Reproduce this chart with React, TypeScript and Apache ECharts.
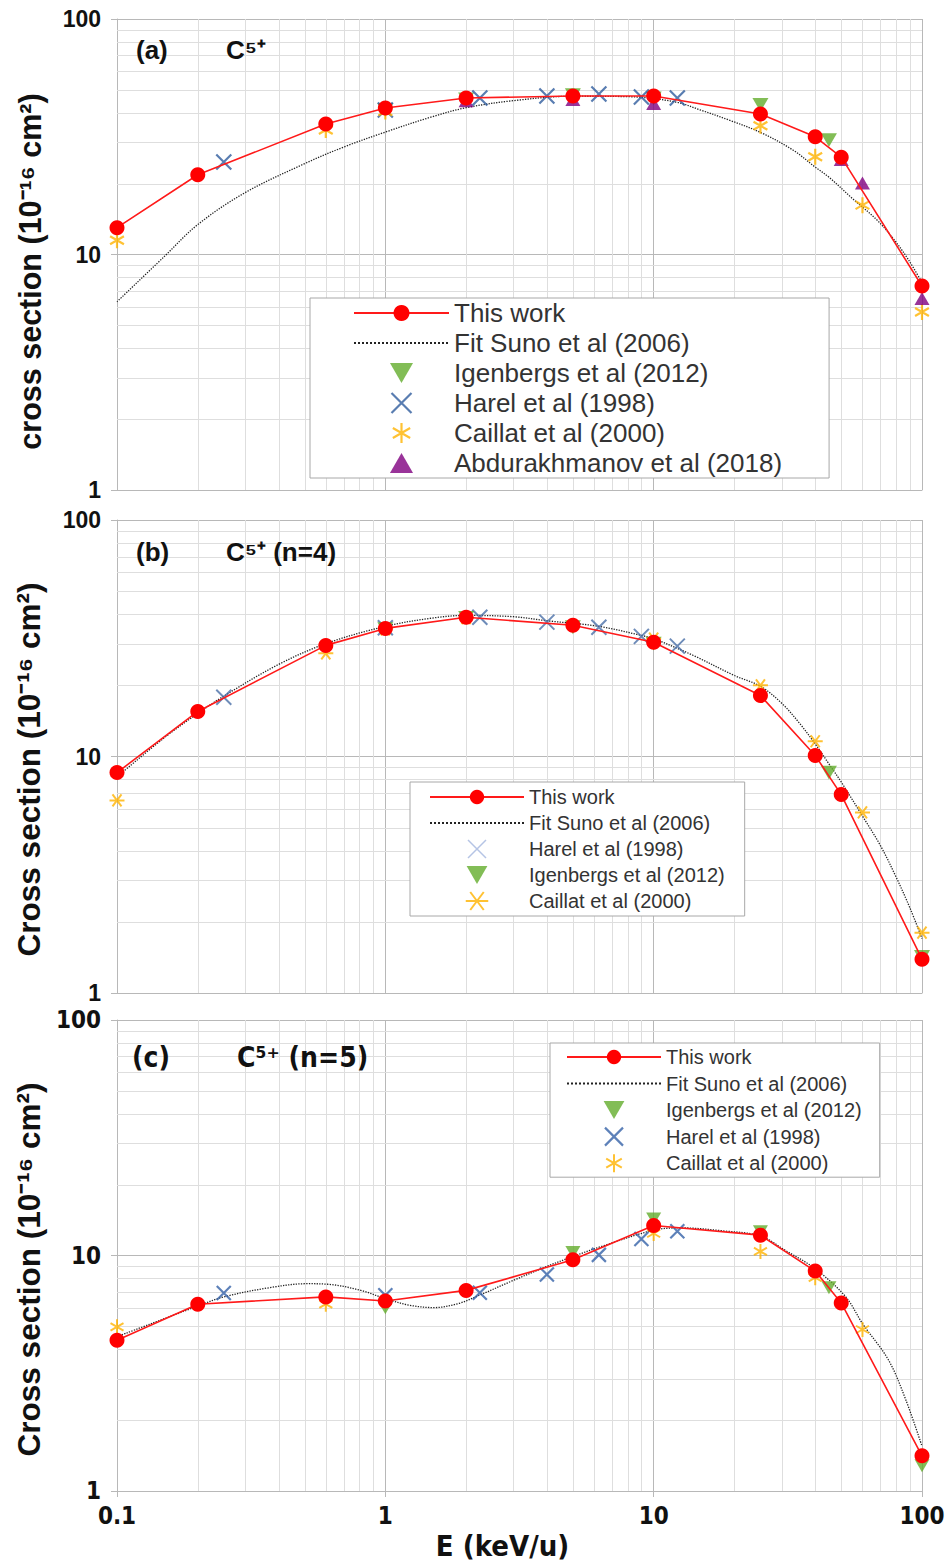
import React, { useEffect, useRef } from 'react';
import * as echarts from 'echarts';

// ---------- shared axis values ----------
const xTicks = [0.1, 1, 10, 100];
const yTicks = [1, 10, 100];
const minorX = [0.2, 0.3, 0.4, 0.5, 0.6, 0.7, 0.8, 0.9, 2, 3, 4, 5, 6, 7, 8, 9, 20, 30, 40, 50, 60, 70, 80, 90];
const minorY = [2, 3, 4, 5, 6, 7, 8, 9, 20, 30, 40, 50, 60, 70, 80, 90];

// ---------- energies (keV/u) ----------
const energyThisWork = [0.1, 0.2, 0.6, 1, 2, 5, 10, 25, 40, 50, 100];
const energyHarel = [0.25, 1, 2.25, 4, 6.25, 9, 12.25];

// ---------- panel (a) : C5+ total ----------
const thisWorkA = [13.0, 21.8, 35.8, 41.9, 46.2, 47.1, 47.1, 39.5, 31.6, 25.9, 7.35];
const harelA = [24.7, 41.1, 46.2, 47.1, 48.0, 46.6, 46.2];
const igenEnergyA = [1, 2, 5, 10, 25, 45];
const igenA = [41.0, 45.5, 47.5, 46.0, 43.2, 30.6];
const caillatEnergyA = [0.1, 0.6, 1, 25, 40, 60, 100];
const caillatA = [11.5, 33.8, 40.5, 35.2, 26.0, 16.2, 5.7];
const abduEnergyA = [2, 5, 10, 50, 60, 100];
const abduA = [45.0, 45.5, 43.8, 25.3, 20.1, 6.5];
const fitEnergyA = [0.1, 0.15, 0.2, 0.3, 0.5, 0.7, 1, 1.5, 2, 3, 5, 8, 12, 15, 19, 25, 33, 40, 45, 55, 68, 79, 89, 100];
const fitA = [6.3, 9.8, 13.4, 18.3, 24.3, 28.6, 33.1, 38.5, 42.0, 45.0, 47.0, 46.8, 44.5, 41.0, 37.3, 33.0, 27.8, 23.5, 21.3, 17.3, 14.0, 11.5, 9.5, 7.6];

// ---------- panel (b) : n=4 ----------
const thisWorkB = [8.55, 15.5, 29.5, 34.8, 38.8, 35.9, 30.4, 18.1, 10.1, 6.9, 1.39];
const harelB = [17.8, 35.0, 38.8, 37.0, 35.2, 32.2, 29.3];
const igenEnergyB = [1, 2, 5, 10, 45, 100];
const igenB = [34.5, 38.5, 35.2, 30.0, 8.55, 1.42];
const caillatEnergyB = [0.1, 0.6, 1, 2, 10, 25, 40, 60, 100];
const caillatB = [6.52, 27.3, 34.5, 38.5, 31.5, 20.0, 11.6, 5.8, 1.8];
const fitEnergyB = [0.1, 0.15, 0.2, 0.25, 0.4, 0.6, 1, 1.5, 2, 3, 4, 6.25, 9, 10, 14, 20, 25, 30, 35, 40, 45, 50, 60, 70, 80, 90, 100];
const fitB = [8.2, 12.0, 15.2, 18.0, 24.5, 30.0, 35.5, 38.5, 39.5, 39.0, 37.5, 35.5, 32.5, 31.5, 26.8, 22.0, 19.8, 16.8, 13.8, 11.3, 9.3, 7.8, 5.6, 4.2, 3.1, 2.3, 1.7];

// ---------- panel (c) : n=5 ----------
const thisWorkC = [4.37, 6.21, 6.67, 6.41, 7.11, 9.59, 13.4, 12.2, 8.59, 6.29, 1.41];
const harelC = [6.93, 6.78, 6.95, 8.31, 10.06, 11.76, 12.67];
const igenEnergyC = [1, 5, 10, 25, 45, 100];
const igenC = [6.0, 10.3, 14.3, 12.6, 7.3, 1.28];
const caillatEnergyC = [0.1, 0.6, 10, 25, 40, 60];
const caillatC = [4.98, 6.21, 12.4, 10.4, 8.05, 4.85];
const fitEnergyC = [0.1, 0.2, 0.25, 0.37, 0.51, 0.61, 0.81, 1, 1.23, 1.52, 1.87, 2.24, 3, 4, 5, 6.5, 10, 12.6, 18.4, 25, 31, 40, 52, 60, 75, 87, 100];
const fitC = [4.52, 6.1, 6.67, 7.3, 7.59, 7.55, 7.11, 6.56, 6.15, 6.01, 6.25, 6.78, 7.84, 8.99, 9.9, 11.0, 12.8, 13.1, 12.7, 12.1, 10.5, 8.78, 6.67, 5.14, 3.6, 2.44, 1.55];

// ---------- names ----------
const N_THIS = 'This work';
const N_FIT = 'Fit Suno et al (2006)';
const N_IGEN = 'Igenbergs et al (2012)';
const N_HAREL = 'Harel et al (1998)';
const N_CAIL = 'Caillat et al (2000)';
const N_ABDU = 'Abdurakhmanov et al (2018)';

const SYM_DOWN = 'path://M0,0L12,0L6,10.4Z';
const SYM_UP = 'path://M6,0L12,10.4L0,10.4Z';
const SYM_X = 'path://M0,0L10,10M10,0L0,10';
const SYM_AST = 'path://M5,0L5,10M0.67,2.5L9.33,7.5M9.33,2.5L0.67,7.5';
const SYM_AST_H = 'path://M0,5L10,5M2,1L8,9M8,1L2,9';

const FONT = "'Liberation Sans', Arial, sans-serif";
const NARROW = "'Liberation Sans Narrow', 'DejaVu Sans Condensed', 'Liberation Sans', sans-serif";
const GRID_MAJOR = '#b8b8b8';
const GRID_MINOR = '#dedede';

const zip = (xs: number[], ys: number[]) => xs.map((x, i) => [x, ys[i]]);
const key = (p: string, n: string) => p + '|' + n;

function gridLines(idx: number, vals: number[], dir: 'x' | 'y') {
  return {
    type: 'custom',
    silent: true,
    z: 1,
    xAxisIndex: idx,
    yAxisIndex: idx,
    data: vals.map((v) => (dir === 'x' ? [v, 10] : [1, v])),
    renderItem: (params: any, api: any) => {
      const p = api.coord([api.value(0), api.value(1)]);
      const cs = params.coordSys;
      const shape =
        dir === 'x'
          ? { x1: Math.round(p[0]) + 0.5, y1: cs.y, x2: Math.round(p[0]) + 0.5, y2: cs.y + cs.height }
          : { x1: cs.x, y1: Math.round(p[1]) + 0.5, x2: cs.x + cs.width, y2: Math.round(p[1]) + 0.5 };
      return { type: 'line', shape, style: { stroke: GRID_MINOR, lineWidth: 1 } };
    },
  };
}

function xAxisCfg(idx: number, showX: boolean) {
  return {
    type: 'log',
    gridIndex: idx,
    logBase: 10,
    min: xTicks[0],
    max: xTicks[xTicks.length - 1],
    name: showX ? 'E (keV/u)' : '',
    nameLocation: 'middle',
    nameGap: 40,
    nameTextStyle: {
      fontFamily: NARROW,
      fontWeight: 'bold',
      fontSize: 29,
      color: '#111',
      padding: [0, 34, 0, 0],
    },
    axisLine: { show: true, lineStyle: { color: GRID_MAJOR, width: 1 } },
    axisTick: { show: showX, length: 6, lineStyle: { color: GRID_MAJOR } },
    axisLabel: {
      show: showX,
      fontFamily: NARROW,
      fontWeight: 'bold',
      fontSize: 24,
      color: '#111',
      margin: 13,
    },
    splitLine: { show: true, lineStyle: { color: GRID_MAJOR, width: 1 } },
  };
}

function yAxisCfg(idx: number, name: string, fontSize: number, shift: number, tickFont: string, tickSize: number) {
  return {
    type: 'log',
    gridIndex: idx,
    logBase: 10,
    min: yTicks[0],
    max: yTicks[yTicks.length - 1],
    name,
    nameLocation: 'middle',
    nameGap: 72,
    nameTextStyle: {
      fontFamily: FONT,
      fontWeight: 'bold',
      fontSize,
      color: '#111',
      padding: [0, shift, 0, 0],
    },
    axisLine: { show: true, lineStyle: { color: GRID_MAJOR, width: 1 } },
    axisTick: { show: true, length: 6, lineStyle: { color: GRID_MAJOR } },
    axisLabel: {
      fontFamily: tickFont,
      fontWeight: 'bold',
      fontSize: tickSize,
      color: '#111',
      margin: 16,
    },
    splitLine: { show: true, lineStyle: { color: GRID_MAJOR, width: 1 } },
  };
}

function fitSeries(p: string, idx: number, xs: number[], ys: number[]) {
  return {
    name: key(p, N_FIT),
    type: 'line',
    xAxisIndex: idx,
    yAxisIndex: idx,
    z: 3,
    smooth: 0.35,
    symbol: 'none',
    lineStyle: { color: '#222', width: 1.3, type: 'dotted' },
    itemStyle: { color: '#222' },
    data: zip(xs, ys),
  };
}

function thisWorkSeries(p: string, idx: number, ys: number[]) {
  return {
    name: key(p, N_THIS),
    type: 'line',
    xAxisIndex: idx,
    yAxisIndex: idx,
    z: 6,
    symbol: 'circle',
    symbolSize: 15,
    lineStyle: { color: '#ff1a1a', width: 1.6 },
    itemStyle: { color: '#ff0000' },
    data: zip(energyThisWork, ys),
  };
}

function scatter(
  p: string,
  idx: number,
  name: string,
  xs: number[],
  ys: number[],
  symbol: string,
  color: string,
  size: number,
  stroke = 0,
) {
  return {
    name: key(p, name),
    type: 'scatter',
    xAxisIndex: idx,
    yAxisIndex: idx,
    z: 4,
    symbol,
    symbolSize: size,
    symbolKeepAspect: true,
    itemStyle: stroke > 0 ? { color, borderColor: color, borderWidth: stroke } : { color },
    data: zip(xs, ys),
  };
}

function legendCfg(
  p: string,
  names: string[],
  left: number,
  top: number,
  padding: number[],
  itemWidth: number,
  itemHeight: number,
  itemGap: number,
  fontSize: number,
  iconStyles: Record<string, any>,
) {
  return {
    show: true,
    orient: 'vertical',
    left,
    top,
    height: 400,
    padding,
    itemWidth,
    itemHeight,
    itemGap,
    backgroundColor: '#ffffff',
    borderColor: '#a8a8a8',
    borderWidth: 1,
    borderRadius: 0,
    selectedMode: false,
    formatter: (n: string) => n.split('|')[1],
    textStyle: { fontFamily: FONT, fontSize, color: '#333' },
    data: names.map((n) => {
      if (n === N_FIT) return { name: key(p, n), itemStyle: { opacity: 0 } };
      if (iconStyles[n]) return { name: key(p, n), itemStyle: iconStyles[n] };
      return { name: key(p, n) };
    }),
  };
}

const titleFont = "bold 26px 'Liberation Sans', Arial, sans-serif";
const titleFontNarrow = "bold 28px 'Liberation Sans Narrow', 'DejaVu Sans Condensed', sans-serif";

const titles = [
  { text: '(a)', x: 136, y: 50, font: titleFont },
  { text: 'C⁵⁺', x: 226, y: 50, font: titleFont },
  { text: '(b)', x: 136, y: 552, font: titleFont },
  { text: 'C⁵⁺ (n=4)', x: 226, y: 552, font: titleFont },
  { text: '(c)', x: 132, y: 1057, font: titleFontNarrow },
  { text: 'C⁵⁺ (n=5)', x: 237, y: 1057, font: titleFontNarrow },
];

const option = {
  animation: false,
  grid: [
    { left: 117, right: 24, top: 19, height: 471, outerBoundsMode: 'none' },
    { left: 117, right: 24, top: 520, height: 473, outerBoundsMode: 'none' },
    { left: 117, right: 24, top: 1020, height: 471, outerBoundsMode: 'none' },
  ],
  xAxis: [xAxisCfg(0, false), xAxisCfg(1, false), xAxisCfg(2, true)],
  yAxis: [
    yAxisCfg(0, 'cross section (10⁻¹⁶ cm²)', 30.5, 34, FONT, 23),
    yAxisCfg(1, 'Cross section (10⁻¹⁶ cm²)', 31.5, 26, FONT, 23),
    yAxisCfg(2, 'Cross section (10⁻¹⁶ cm²)', 31.5, 28, NARROW, 24),
  ],
  legend: [
    legendCfg('a', [N_THIS, N_FIT, N_IGEN, N_HAREL, N_CAIL, N_ABDU], 310, 298, [2, 47, 2, 43], 95, 20, 4, 26, {
      [N_HAREL]: { borderWidth: 2.2 },
      [N_CAIL]: { borderWidth: 2.2 },
    }),
    legendCfg('b', [N_THIS, N_FIT, N_HAREL, N_IGEN, N_CAIL], 410, 782, [5, 20, 5, 19], 94, 18, 6, 20, {
      [N_HAREL]: { color: '#a3b5de', borderColor: '#a3b5de', borderWidth: 1.5 },
      [N_CAIL]: { borderWidth: 2 },
    }),
    legendCfg('c', [N_THIS, N_FIT, N_IGEN, N_HAREL, N_CAIL], 550, 1043, [4, 18, 4, 16], 94, 18, 6.5, 20, {
      [N_HAREL]: { borderWidth: 2.2 },
      [N_CAIL]: { borderWidth: 2 },
    }),
  ],
  graphic: titles.map((t) => ({
    type: 'text',
    x: t.x,
    y: t.y,
    z: 100,
    style: { text: t.text, font: t.font, fill: '#111', verticalAlign: 'middle', align: 'left' },
  })),
  series: [
    gridLines(0, minorX, 'x'),
    gridLines(0, minorY, 'y'),
    gridLines(1, minorX, 'x'),
    gridLines(1, minorY, 'y'),
    gridLines(2, minorX, 'x'),
    gridLines(2, minorY, 'y'),
    // panel (a)
    fitSeries('a', 0, fitEnergyA, fitA),
    scatter('a', 0, N_IGEN, igenEnergyA, igenA, SYM_DOWN, '#63ad2c', 16),
    scatter('a', 0, N_HAREL, energyHarel, harelA, SYM_X, '#2f5d9e', 15, 2.2),
    scatter('a', 0, N_CAIL, caillatEnergyA, caillatA, SYM_AST, '#ffb300', 16, 2.2),
    scatter('a', 0, N_ABDU, abduEnergyA, abduA, SYM_UP, '#800080', 15),
    thisWorkSeries('a', 0, thisWorkA),
    // panel (b)
    fitSeries('b', 1, fitEnergyB, fitB),
    scatter('b', 1, N_HAREL, energyHarel, harelB, SYM_X, '#4a6fa8', 15, 2),
    scatter('b', 1, N_IGEN, igenEnergyB, igenB, SYM_DOWN, '#63ad2c', 16),
    scatter('b', 1, N_CAIL, caillatEnergyB, caillatB, SYM_AST_H, '#ffb300', 15, 2),
    thisWorkSeries('b', 1, thisWorkB),
    // panel (c)
    fitSeries('c', 2, fitEnergyC, fitC),
    scatter('c', 2, N_IGEN, igenEnergyC, igenC, SYM_DOWN, '#63ad2c', 15),
    scatter('c', 2, N_HAREL, energyHarel, harelC, SYM_X, '#3462a8', 14, 2.2),
    scatter('c', 2, N_CAIL, caillatEnergyC, caillatC, SYM_AST, '#ffb300', 15, 2),
    thisWorkSeries('c', 2, thisWorkC),
  ],
};

export default function App() {
  const ref = useRef<HTMLDivElement>(null);
  useEffect(() => {
    const chart = echarts.init(ref.current as HTMLDivElement, null, { renderer: 'svg' });
    chart.setOption(option as any);
    return () => chart.dispose();
  }, []);
  return (
    <div
      ref={ref}
      style={{ position: 'absolute', left: 0, top: 0, width: 946, height: 1564, background: '#fff' }}
    />
  );
}
